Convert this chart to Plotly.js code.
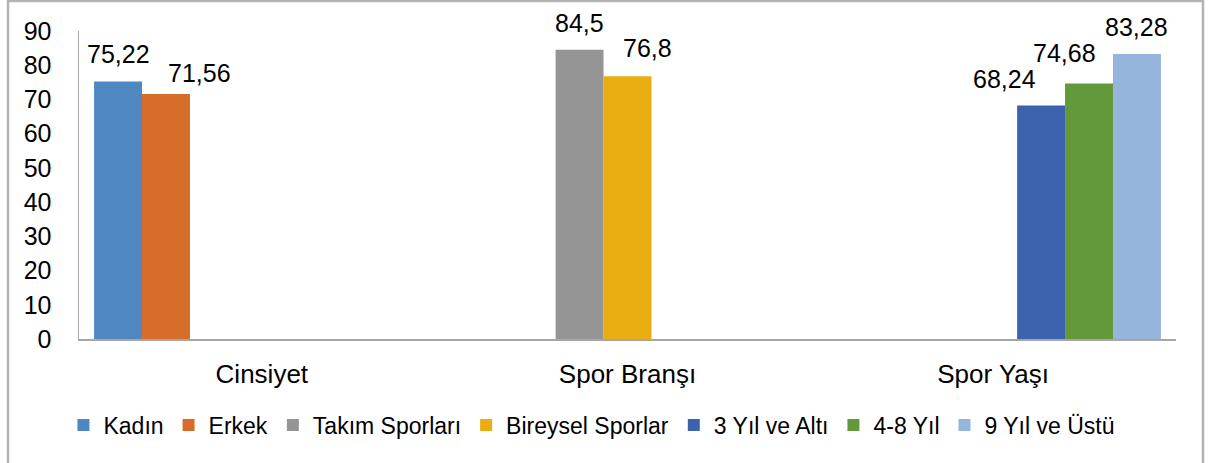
<!DOCTYPE html>
<html>
<head>
<meta charset="utf-8">
<script src="https://cdn.plot.ly/plotly-3.0.1.min.js"></script>
<style>
  html, body { margin: 0; padding: 0; background: #ffffff; }
  #chart { width: 1208px; height: 463px; }
</style>
</head>
<body>
<div id="chart"></div>
<script>
// ---- data ----
const categories = ["Cinsiyet", "Spor Branşı", "Spor Yaşı"];
const seriesNames = ["Kadın", "Erkek", "Takım Sporları", "Bireysel Sporlar", "3 Yıl ve Altı", "4-8 Yıl", "9 Yıl ve Üstü"];
const seriesCategory = ["Cinsiyet", "Cinsiyet", "Spor Branşı", "Spor Branşı", "Spor Yaşı", "Spor Yaşı", "Spor Yaşı"];
const seriesValues = [75.22, 71.56, 84.5, 76.8, 68.24, 74.68, 83.28];
const valueLabels = ["75,22", "71,56", "84,5", "76,8", "68,24", "74,68", "83,28"];
const yTickValues = [0, 10, 20, 30, 40, 50, 60, 70, 80, 90];

// ---- styles ----
const colors = ["#4f88c1", "#d76d2a", "#959595", "#ebae12", "#3c62ad", "#64993b", "#96b5dd"];
const labelDx = [0, 34, 0, 20, -37, -25, 0];
const labelDy = [12, 5, 11, 12, 10, 14, 11];

const bargap = 0.0825;
const nSeries = seriesNames.length;
const slot = (1 - bargap) / nSeries;

const traces = seriesNames.map((name, i) => ({
  type: "bar",
  name: name,
  x: [seriesCategory[i]],
  y: [seriesValues[i]],
  marker: { color: colors[i] },
  hoverinfo: "name+y"
}));

const annotations = seriesNames.map((name, i) => {
  const catIdx = categories.indexOf(seriesCategory[i]);
  return {
    x: catIdx - (1 - bargap) / 2 + (i + 0.5) * slot,
    y: seriesValues[i],
    xref: "x", yref: "y",
    text: valueLabels[i],
    showarrow: false,
    xanchor: "center", yanchor: "bottom",
    xshift: labelDx[i], yshift: labelDy[i],
    font: { family: "Liberation Sans, Arial, sans-serif", size: 25, color: "#000000" }
  };
});

const layout = {
  width: 1208, height: 463,
  margin: { l: 79, r: 32, t: 31, b: 124 },
  paper_bgcolor: "#ffffff",
  plot_bgcolor: "#ffffff",
  barmode: "group",
  bargap: bargap,
  bargroupgap: 0,
  font: { family: "Liberation Sans, Arial, sans-serif", color: "#000000" },
  xaxis: {
    type: "category",
    categoryorder: "array",
    categoryarray: categories,
    range: [-0.5, 2.5],
    showline: true, linecolor: "#a6a6a6", linewidth: 1.5,
    showgrid: false, zeroline: false,
    ticks: "outside", ticklen: 11, tickcolor: "rgba(0,0,0,0)",
    tickfont: { size: 26, color: "#000000" },
    fixedrange: true
  },
  yaxis: {
    range: [0, 90],
    tickvals: yTickValues,
    showline: true, linecolor: "#a6a6a6", linewidth: 1.5,
    showgrid: false, zeroline: false,
    ticks: "outside", ticklen: 21, tickcolor: "rgba(0,0,0,0)",
    tickfont: { size: 25, color: "#000000" },
    fixedrange: true
  },
  legend: {
    orientation: "h",
    x: 0.4676, xanchor: "center",
    y: -0.279, yanchor: "middle",
    font: { size: 23, color: "#000000" },
    bgcolor: "rgba(0,0,0,0)",
    itemclick: false, itemdoubleclick: false
  },
  annotations: annotations,
  shapes: [{
    type: "rect", xref: "paper", yref: "paper",
    x0: -0.0647, x1: 1.0246, y0: -0.45, y1: 1.097,
    line: { color: "#b3b3b3", width: 2.5 },
    fillcolor: "rgba(0,0,0,0)",
    layer: "below"
  }],
  showlegend: true
};

Plotly.newPlot("chart", traces, layout, { displayModeBar: false, staticPlot: true });
</script>
</body>
</html>
